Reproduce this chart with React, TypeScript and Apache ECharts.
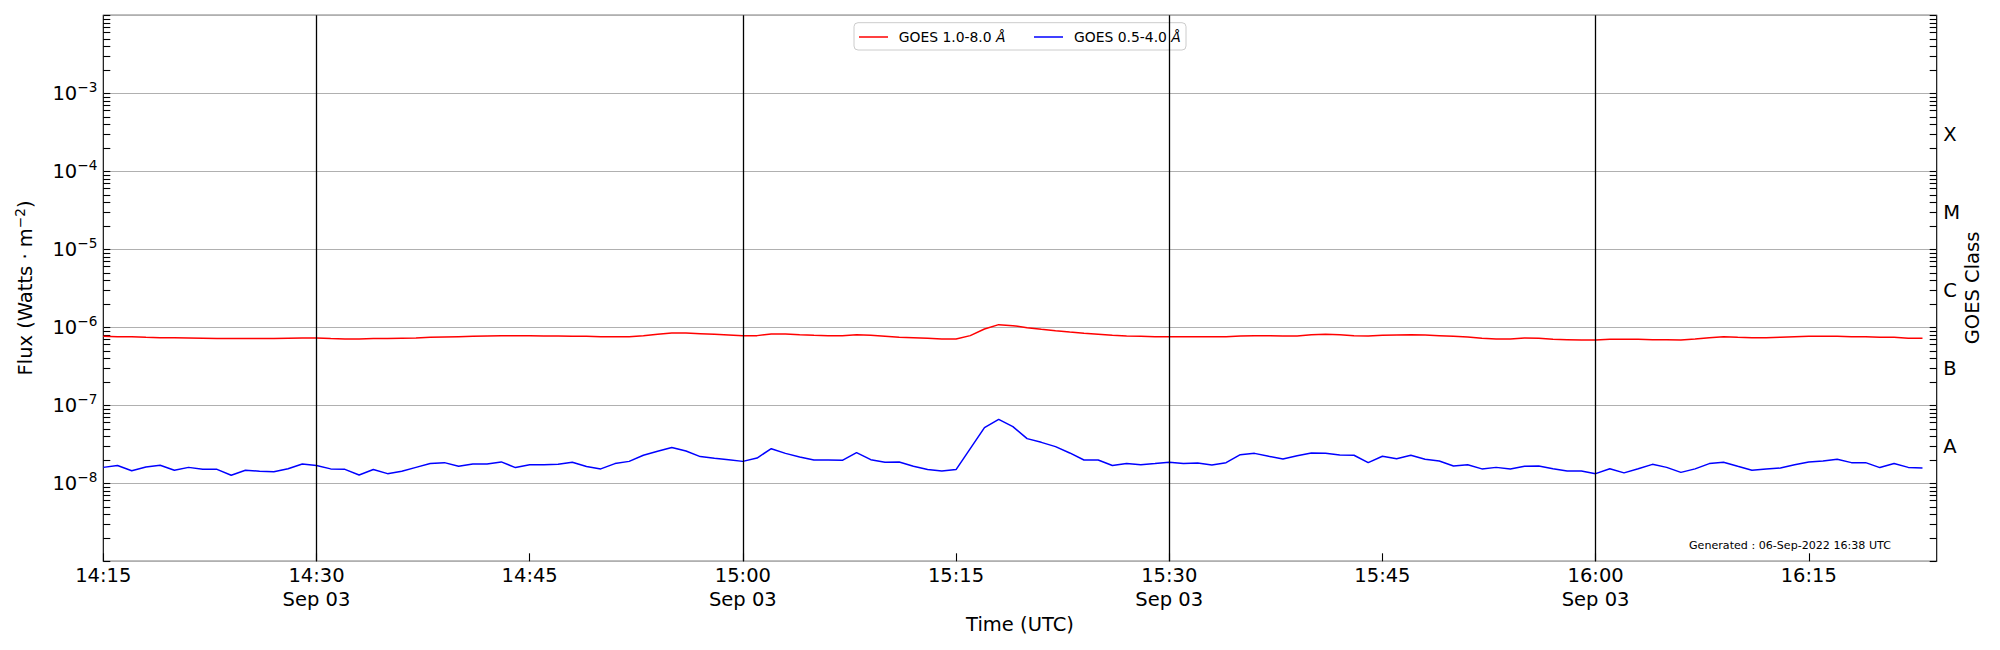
import React, { useEffect, useRef } from "react";
import * as echarts from "echarts";

// ---- data (1-minute cadence, starting 14:15 UTC, 03 Sep 2022) ----
const START_MINUTE = 14 * 60 + 15;
const END_MINUTE = 16 * 60 + 24;
const DATE_LABEL = "Sep 03";

const LONG_NAME = "GOES 1.0-8.0 Å";
const SHORT_NAME = "GOES 0.5-4.0 Å";

const LONG_UNIT = 1e-6;
const longFlux = [
  0.767, 0.759, 0.759, 0.744, 0.737, 0.737, 0.73, 0.723, 0.716, 0.716,
  0.716, 0.716, 0.716, 0.723, 0.73, 0.73, 0.716, 0.709, 0.709, 0.716,
  0.716, 0.723, 0.73, 0.744, 0.752, 0.759, 0.767, 0.774, 0.782, 0.782,
  0.782, 0.774, 0.774, 0.767, 0.767, 0.759, 0.759, 0.759, 0.782, 0.813,
  0.846, 0.846, 0.829, 0.813, 0.797, 0.782, 0.782, 0.821, 0.821, 0.805,
  0.79, 0.782, 0.782, 0.805, 0.79, 0.767, 0.744, 0.737, 0.723, 0.709,
  0.709, 0.782, 0.952, 1.082, 1.05, 0.99, 0.943, 0.906, 0.871, 0.838,
  0.813, 0.79, 0.774, 0.767, 0.759, 0.759, 0.759, 0.759, 0.759, 0.759,
  0.774, 0.782, 0.782, 0.774, 0.774, 0.805, 0.813, 0.805, 0.782, 0.774,
  0.79, 0.797, 0.805, 0.797, 0.782, 0.767, 0.752, 0.723, 0.709, 0.709,
  0.73, 0.723, 0.702, 0.695, 0.688, 0.688, 0.702, 0.702, 0.702, 0.695,
  0.695, 0.688, 0.709, 0.737, 0.759, 0.744, 0.737, 0.737, 0.744, 0.759,
  0.767, 0.767, 0.767, 0.759, 0.759, 0.744, 0.744, 0.723, 0.723,
];

const SHORT_UNIT = 1e-8;
const shortFlux = [
  1.6, 1.69, 1.45, 1.62, 1.7, 1.47, 1.6, 1.51, 1.51, 1.27,
  1.47, 1.43, 1.41, 1.54, 1.77, 1.69, 1.53, 1.51, 1.28, 1.5,
  1.33, 1.43, 1.6, 1.79, 1.84, 1.65, 1.77, 1.77, 1.88, 1.59,
  1.73, 1.73, 1.75, 1.86, 1.64, 1.53, 1.79, 1.91, 2.29, 2.57,
  2.87, 2.6, 2.2, 2.09, 2.01, 1.91, 2.11, 2.78, 2.42, 2.18,
  1.99, 1.99, 1.97, 2.47, 2.01, 1.86, 1.88, 1.65, 1.5, 1.44,
  1.5, 2.78, 5.17, 6.61, 5.33, 3.74, 3.35, 2.95, 2.45, 1.99,
  1.99, 1.69, 1.79, 1.73, 1.79, 1.86, 1.79, 1.82, 1.72, 1.84,
  2.33, 2.42, 2.22, 2.05, 2.26, 2.45, 2.42, 2.31, 2.29, 1.84,
  2.22, 2.07, 2.29, 2.03, 1.93, 1.67, 1.73, 1.53, 1.6, 1.53,
  1.65, 1.67, 1.54, 1.44, 1.44, 1.33, 1.54, 1.36, 1.54, 1.75,
  1.6, 1.38, 1.53, 1.79, 1.86, 1.65, 1.47, 1.53, 1.57, 1.73,
  1.88, 1.93, 2.03, 1.84, 1.84, 1.59, 1.79, 1.6, 1.57,
];

const xTickMinutes = [855, 870, 885, 900, 915, 930, 945, 960, 975];
const halfHourLines = [870, 900, 930, 960];
const yDecades = [1e-8, 1e-7, 1e-6, 1e-5, 1e-4, 1e-3];
const goesClassLabels = ["A", "B", "C", "M", "X"];
const goesClassValues = [3e-8, 3e-7, 3e-6, 3e-5, 3e-4];
const GENERATED_TEXT = "Generated : 06-Sep-2022 16:38 UTC";

const FONT = "DejaVu Sans";

// log tick positions (1..9 x 10^n)
const yTickValues: number[] = [];
for (let d = -9; d <= -3; d++) {
  for (let m = 1; m <= 9; m++) yTickValues.push(m * Math.pow(10, d));
}
yTickValues.push(1e-2);

const pad2 = (n: number) => (n < 10 ? "0" + n : "" + n);

export default function App() {
  const ref = useRef<HTMLDivElement>(null);

  useEffect(() => {
    document.body.style.margin = "0";
    if (!ref.current) return;
    const chart = echarts.init(ref.current, undefined, { renderer: "svg" });

    const longData = longFlux.map((v, i) => [START_MINUTE + i, v * LONG_UNIT]);
    const shortData = shortFlux.map((v, i) => [START_MINUTE + i, v * SHORT_UNIT]);

    const tickLine = { color: "#000", width: 1.1 };

    const legendRich = {
      n: { fontFamily: FONT, fontSize: 13.9, fill: "#000" },
      i: { fontFamily: FONT, fontSize: 13.9, fontStyle: "italic", fill: "#000" },
    };
    const legendText = (name: string) => `{n|${name.slice(0, -1)}}{i|Å}`;

    const option: any = {
      animation: false,
      backgroundColor: "#fff",
      grid: {
        left: 103.3,
        right: 63.3,
        top: 15.3,
        bottom: 88.7,
        show: true,
        borderColor: "#000",
        borderWidth: 1.1,
        backgroundColor: "transparent",
      },
      xAxis: {
        type: "value",
        min: START_MINUTE,
        max: END_MINUTE,
        interval: 15,
        splitLine: { show: false },
        axisLine: { show: false },
        axisTick: {
          inside: true,
          length: 8,
          customValues: xTickMinutes,
          lineStyle: tickLine,
        },
        axisLabel: {
          customValues: xTickMinutes,
          margin: 2,
          fontFamily: FONT,
          fontSize: 19.5,
          lineHeight: 24,
          color: "#000",
          formatter: (v: number) => {
            const h = Math.floor(v / 60);
            const m = Math.round(v % 60);
            const s = `${h}:${pad2(m)}`;
            return m % 30 === 0 ? `${s}\n${DATE_LABEL}` : s;
          },
        },
      },
      yAxis: [
        {
          type: "log",
          logBase: 10,
          min: 1e-9,
          max: 1e-2,
          position: "left",
          splitLine: { show: false },
          axisLine: { show: false },
          axisTick: {
            inside: true,
            length: 7,
            customValues: yTickValues,
            lineStyle: tickLine,
          },
          axisLabel: {
            customValues: yDecades,
            margin: 6,
            color: "#000",
            formatter: (v: number) => {
              const e = Math.round(Math.log10(v));
              return `{b|10}{s|\u2212${Math.abs(e)}}`;
            },
            rich: {
              b: { fontFamily: FONT, fontSize: 19.5, lineHeight: 26, color: "#000" },
              s: { fontFamily: FONT, fontSize: 13.6, lineHeight: 14, verticalAlign: "top", color: "#000" },
            },
          },
        },
        {
          type: "log",
          logBase: 10,
          min: 1e-9,
          max: 1e-2,
          position: "right",
          splitLine: { show: false },
          axisLine: { show: false },
          axisTick: {
            inside: true,
            length: 7,
            customValues: yTickValues,
            lineStyle: tickLine,
          },
          axisLabel: {
            customValues: goesClassValues,
            margin: 6.6,
            fontFamily: FONT,
            fontSize: 19.5,
            color: "#000",
            formatter: (v: number) => {
              const i = goesClassValues.findIndex(
                (c) => Math.abs(Math.log10(c) - Math.log10(v)) < 0.02
              );
              return i >= 0 ? goesClassLabels[i] : "";
            },
          },
        },
        {
          // hidden axis that only draws the horizontal decade grid lines
          type: "log",
          logBase: 10,
          min: 1e-9,
          max: 1e-2,
          interval: 1,
          position: "left",
          axisLine: { show: false },
          axisTick: { show: false },
          axisLabel: { show: false },
          splitLine: { show: true, lineStyle: { color: "#b0b0b0", width: 1.1, type: "solid" } },
        },
      ],
      series: [
        {
          name: LONG_NAME,
          type: "line",
          data: longData,
          symbol: "none",
          showSymbol: false,
          z: 2,
          lineStyle: { color: "#ff0000", width: 1.5 },
          itemStyle: { color: "#ff0000" },
          emphasis: { disabled: true },
        },
        {
          name: SHORT_NAME,
          type: "line",
          data: shortData,
          symbol: "none",
          showSymbol: false,
          z: 2,
          lineStyle: { color: "#0000ff", width: 1.5 },
          itemStyle: { color: "#0000ff" },
          emphasis: { disabled: true },
        },
        {
          name: "half-hours",
          type: "line",
          data: [],
          silent: true,
          z: 3,
          markLine: {
            silent: true,
            symbol: "none",
            label: { show: false },
            emphasis: { disabled: true },
            lineStyle: { color: "#000", width: 1.3, type: "solid" },
            data: halfHourLines.map((v) => ({ xAxis: v })),
          },
        },
      ],
      graphic: [
        // legend
        {
          type: "group",
          z: 100,
          children: [
            {
              type: "rect",
              shape: { x: 854, y: 22.7, width: 332, height: 27.3, r: 4 },
              style: { fill: "rgba(255,255,255,0.8)", stroke: "#cccccc", lineWidth: 1 },
            },
            {
              type: "line",
              shape: { x1: 859, y1: 37, x2: 888, y2: 37 },
              style: { stroke: "#ff0000", lineWidth: 1.5 },
            },
            {
              type: "text",
              x: 898.7,
              y: 37,
              style: { text: legendText(LONG_NAME), rich: legendRich, verticalAlign: "middle", align: "left" },
            },
            {
              type: "line",
              shape: { x1: 1034, y1: 37, x2: 1063, y2: 37 },
              style: { stroke: "#0000ff", lineWidth: 1.5 },
            },
            {
              type: "text",
              x: 1074,
              y: 37,
              style: { text: legendText(SHORT_NAME), rich: legendRich, verticalAlign: "middle", align: "left" },
            },
          ],
        },
        {
          type: "text",
          x: 25.5,
          y: 288,
          rotation: Math.PI / 2,
          style: {
            text: "{a|Flux (Watts \u00b7 m}{s|\u22122}{a|)}",
            align: "center",
            verticalAlign: "middle",
            rich: {
              a: { fontFamily: FONT, fontSize: 19.5, lineHeight: 26, fill: "#000" },
              s: { fontFamily: FONT, fontSize: 13.6, lineHeight: 14, verticalAlign: "top", fill: "#000" },
            },
          },
        },
        {
          type: "text",
          x: 1020,
          y: 624,
          style: {
            text: "Time (UTC)",
            fontFamily: FONT,
            fontSize: 19.5,
            fill: "#000",
            align: "center",
            verticalAlign: "middle",
          },
        },
        {
          type: "text",
          x: 1972,
          y: 288,
          rotation: Math.PI / 2,
          style: {
            text: "GOES Class",
            fontFamily: FONT,
            fontSize: 19.5,
            fill: "#000",
            align: "center",
            verticalAlign: "middle",
          },
        },
        {
          type: "text",
          x: 1689,
          y: 545,
          z: 10,
          style: {
            text: GENERATED_TEXT,
            fontFamily: FONT,
            fontSize: 11.1,
            fill: "#000",
            align: "left",
            verticalAlign: "middle",
          },
        },
      ],
    };

    chart.setOption(option);
    return () => chart.dispose();
  }, []);

  return <div ref={ref} style={{ width: 2000, height: 650 }} />;
}
